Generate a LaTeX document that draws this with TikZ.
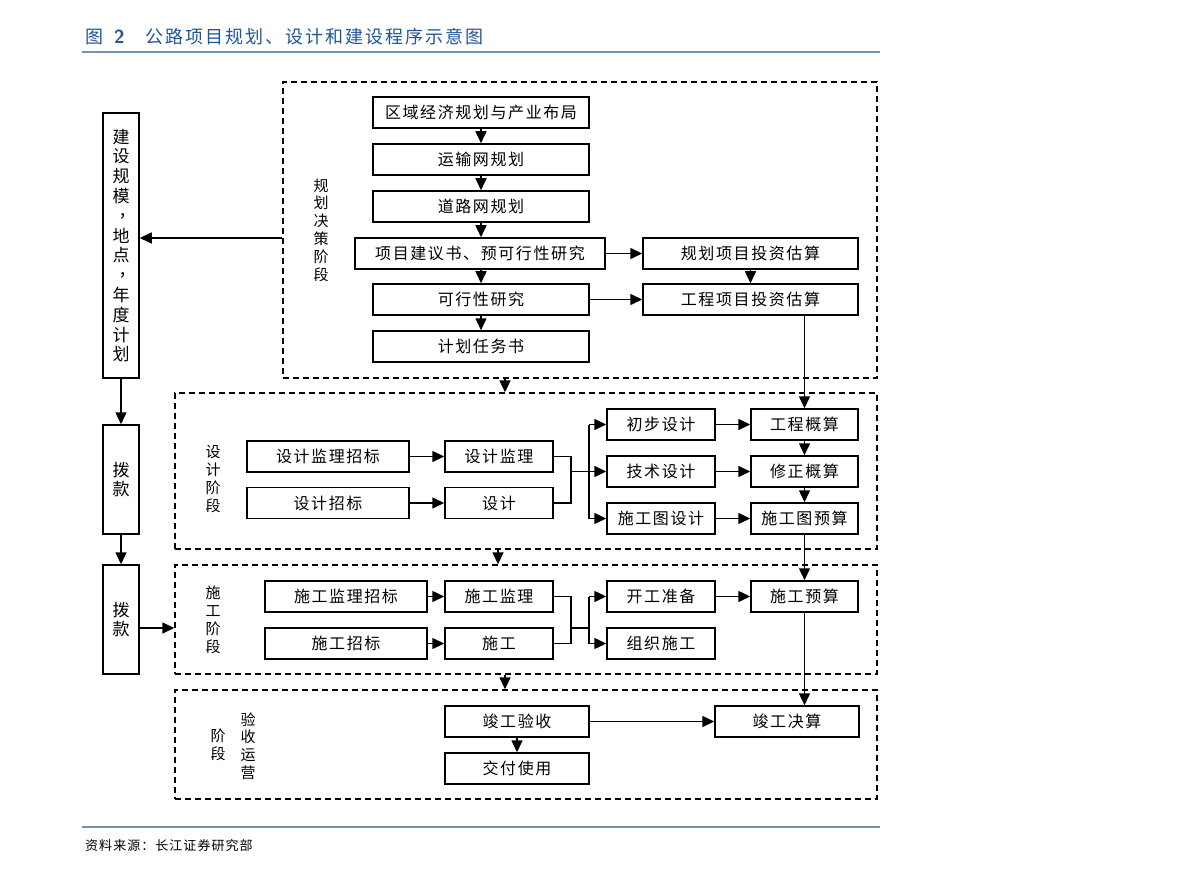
\documentclass[tikz,border=0pt]{standalone}
\usepackage{fontspec}
\setmainfont{Noto Sans CJK SC}
\newfontfamily\cjk[LetterSpace=10]{Noto Sans CJK SC}
\newfontfamily\cjkplain{Noto Sans CJK SC}
\newfontfamily\cjktitle[LetterSpace=11]{Noto Sans CJK SC}
\newfontfamily\cjkfoot[LetterSpace=8]{Noto Sans CJK SC}
\usetikzlibrary{arrows.meta}
\definecolor{titleblue}{RGB}{31,86,148}
\definecolor{rulecol}{RGB}{120,145,175}
\newcommand\vcomma{\makebox[17pt][l]{\hspace{6pt}\raisebox{5pt}{，}}}
\tikzset{
  box/.style={draw, line width=1.5pt, minimum height=31pt, inner sep=0pt, font=\cjk\fontsize{16}{18}\selectfont},
  stagebox/.style={draw, dash pattern=on 6pt off 4pt, line width=1.4pt, inner sep=0pt},
  arr/.style={line width=1.5pt, -{Triangle[length=12pt,width=11pt]}},
  ln/.style={line width=1.5pt},
  vlab/.style={align=center, font=\cjkplain\fontsize{15}{17.8}\selectfont, inner sep=0pt},
  vbox/.style={draw, line width=1.5pt, minimum width=36pt, inner sep=0pt, align=center, font=\cjkplain\fontsize{17}{19.8}\selectfont},
}
\begin{document}
\begin{tikzpicture}[x=1pt,y=-1pt]
\useasboundingbox (0,0) rectangle (1190,874);

% title and rules
\node[anchor=west, inner sep=0pt, text=titleblue] (title) at (85,37)
  {{\cjkplain\fontsize{18}{20}\selectfont 图}\hspace{11pt}{\sffamily\bfseries\fontsize{19}{20}\selectfont 2}\hspace{21pt}{\cjktitle\fontsize{18}{20}\selectfont 公路项目规划、设计和建设程序示意图}};
\draw[rulecol, line width=2pt] (82,52) -- (880,52);
\draw[rulecol, line width=2pt] (82,827) -- (880,827);
\node[anchor=west, inner sep=0pt] (src) at (85,846) {\cjkfoot\fontsize{13}{14}\selectfont 资料来源：长江证券研究部};

% stage boxes
\node[stagebox, minimum width=594pt, minimum height=296pt] (S1) at (580,230) {};
\node[stagebox, minimum width=702pt, minimum height=156pt] (S2) at (526,471) {};
\node[stagebox, minimum width=702pt, minimum height=109pt] (S3) at (526,619.5) {};
\node[stagebox, minimum width=702pt, minimum height=109pt] (S4) at (526,744.5) {};

% stage labels
\node[vlab] (lab1) at (321,230) {规\\划\\决\\策\\阶\\段};
\node[vlab] (lab2) at (213,479) {设\\计\\阶\\段};
\node[vlab] (lab3) at (213,620) {施\\工\\阶\\段};
\node[vlab] (lab4a) at (218,745) {阶\\段};
\node[vlab] (lab4b) at (248,746) {验\\收\\运\\营};

% left column
\node[vbox, minimum height=265pt] (L1) at (121,245.5) {建\\设\\规\\模\\\vcomma\\地\\点\\\vcomma\\年\\度\\计\\划};
\node[vbox, minimum height=109pt] (L2) at (121,479.5) {拨\\款};
\node[vbox, minimum height=109pt] (L3) at (121,619.5) {拨\\款};

% planning stage
\node[box, minimum width=216pt] (r1) at (481,112.5) {区域经济规划与产业布局};
\node[box, minimum width=216pt] (r2) at (481,159.5) {运输网规划};
\node[box, minimum width=216pt] (r3) at (481,206.5) {道路网规划};
\node[box, minimum width=250pt] (r4) at (480,253.5) {项目建议书、预可行性研究};
\node[box, minimum width=216pt] (r5) at (481,299.5) {可行性研究};
\node[box, minimum width=216pt] (r6) at (481,346.5) {计划任务书};
\node[box, minimum width=215pt] (e1) at (750.5,253.5) {规划项目投资估算};
\node[box, minimum width=215pt] (e2) at (750.5,299.5) {工程项目投资估算};

% design stage
\node[box, minimum width=162pt] (d1) at (328,456.5) {设计监理招标};
\node[box, minimum width=162pt] (d2) at (328,503) {设计招标};
\node[box, minimum width=108pt] (d3) at (499,456.5) {设计监理};
\node[box, minimum width=108pt] (d4) at (499,503) {设计};
\node[box, minimum width=108pt] (d5) at (661,424.5) {初步设计};
\node[box, minimum width=108pt] (d6) at (661,471.5) {技术设计};
\node[box, minimum width=108pt] (d7) at (661,518.5) {施工图设计};
\node[box, minimum width=107pt] (d8) at (804.5,424.5) {工程概算};
\node[box, minimum width=107pt] (d9) at (804.5,471.5) {修正概算};
\node[box, minimum width=107pt] (d10) at (804.5,518.5) {施工图预算};

% construction stage
\node[box, minimum width=162pt] (c1) at (346,596.5) {施工监理招标};
\node[box, minimum width=162pt] (c2) at (346,643.5) {施工招标};
\node[box, minimum width=108pt] (c3) at (499,596.5) {施工监理};
\node[box, minimum width=108pt] (c4) at (499,643.5) {施工};
\node[box, minimum width=108pt] (c5) at (661,596.5) {开工准备};
\node[box, minimum width=108pt] (c6) at (661,643.5) {组织施工};
\node[box, minimum width=107pt] (c7) at (804.5,596.5) {施工预算};

% acceptance stage
\node[box, minimum width=144pt] (a1) at (517,721.5) {竣工验收};
\node[box, minimum width=144pt] (a2) at (517,768.5) {交付使用};
\node[box, minimum width=144pt] (a3) at (787,721.5) {竣工决算};

% helper coordinates
\coordinate (x505) at (505,0);
\coordinate (x498) at (498,0);
\coordinate (y238) at (0,238);
\coordinate (y628) at (0,628);
\coordinate (bx) at (571,0);
\coordinate (bus) at (589,0);

% planning arrows
\draw[arr] (r1) -- (r2);
\draw[arr] (r2) -- (r3);
\draw[arr] (r3.south) -- (r3.south |- r4.north);
\draw[arr] (r4.south -| r5) -- (r5.north);
\draw[arr] (r5) -- (r6);
\draw[arr] (r4) -- (e1);
\draw[arr] (r5) -- (e2);
\draw[arr] (e1) -- (e2);
\draw[arr] (e2.south -| d8.north) -- (d8.north);
\draw[arr] (S1.west |- y238) -- (L1.east |- y238);

% stage-to-stage arrows
\draw[arr] (S1.south -| x505) -- (S2.north -| x505);
\draw[arr] (S2.south -| x498) -- (S3.north -| x498);
\draw[arr] (S3.south -| x505) -- (S4.north -| x505);

% left column arrows
\draw[arr] (L1) -- (L2);
\draw[arr] (L2) -- (L3);
\draw[arr] (L3.east |- y628) -- (S3.west |- y628);

% design arrows
\draw[arr] (d1) -- (d3);
\draw[arr] (d2) -- (d4);
\draw[ln] (d3.east) -- (d3.east -| bx) -- (d4.east -| bx) -- (d4.east);
\draw[ln] (d6.west -| bx) -- (d6.west -| bus);
\draw[ln] (d5.west -| bus) -- (d7.west -| bus);
\draw[arr] (d5.west -| bus) -- (d5.west);
\draw[arr] (d6.west -| bus) -- (d6.west);
\draw[arr] (d7.west -| bus) -- (d7.west);
\draw[arr] (d5) -- (d8);
\draw[arr] (d6) -- (d9);
\draw[arr] (d7) -- (d10);
\draw[arr] (d8) -- (d9);
\draw[arr] (d9) -- (d10);
\draw[arr] (d10) -- (c7);

% construction arrows
\draw[arr] (c1) -- (c3);
\draw[arr] (c2) -- (c4);
\draw[ln] (c3.east) -- (c3.east -| bx) -- (c4.east -| bx) -- (c4.east);
\draw[ln] (bx |- y628) -- (bus |- y628);
\draw[ln] (c5.west -| bus) -- (c6.west -| bus);
\draw[arr] (c5.west -| bus) -- (c5.west);
\draw[arr] (c6.west -| bus) -- (c6.west);
\draw[arr] (c5) -- (c7);
\draw[arr] (c7.south) -- (c7.south |- a3.north);

% acceptance arrows
\draw[arr] (a1) -- (a2);
\draw[arr] (a1) -- (a3);
\end{tikzpicture}
\end{document}
